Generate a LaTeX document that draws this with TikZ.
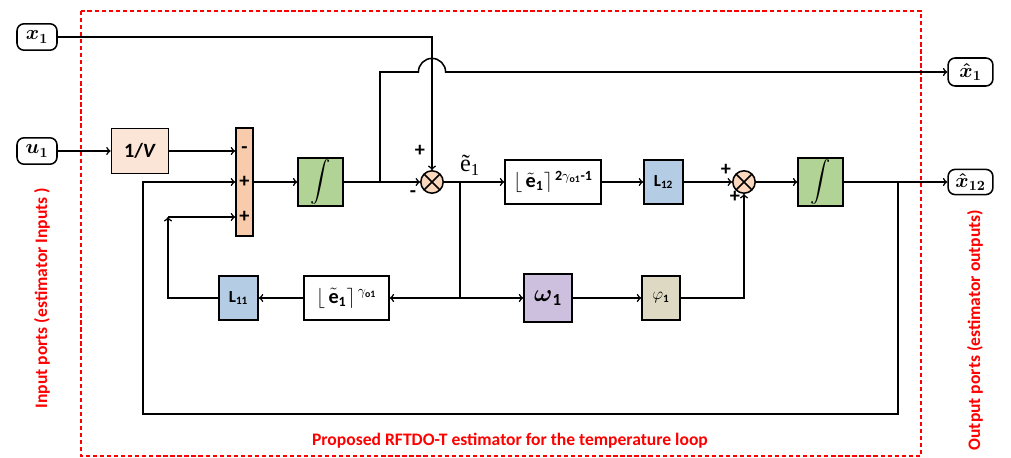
\documentclass[tikz,border=0pt]{standalone}
\usepackage{amsmath}
\usepackage{fontspec}
\setmainfont{Carlito}
\newfontfamily\serf{Liberation Serif}
\usepackage{tikz}
\usepackage{xcolor}
\definecolor{vpeach}{RGB}{251,229,214}
\definecolor{barorange}{RGB}{248,203,173}
\definecolor{sumpeach}{RGB}{251,215,190}
\definecolor{intgreen}{RGB}{178,211,150}
\definecolor{lblue}{RGB}{180,204,228}
\definecolor{lpurple}{RGB}{205,192,222}
\definecolor{lbeige}{RGB}{221,217,195}

\begin{document}
\begin{tikzpicture}[x=0.025cm, y=-0.025cm, line width=1.1pt, >=to,
    port/.style={draw, rounded corners=5pt, minimum width=1cm, minimum height=0.66cm, inner sep=0pt, font=\Large},
    blk/.style={draw, minimum width=1cm, minimum height=1.1cm, inner sep=1pt},
    sumc/.style={draw, circle, fill=sumpeach, minimum size=0.56cm, inner sep=0pt,
        path picture={\draw (path picture bounding box.north west) -- (path picture bounding box.south east)
                            (path picture bounding box.south west) -- (path picture bounding box.north east);}},
    sgn/.style={font=\bfseries\Large, inner sep=0pt},
    lbl/.style={red, font=\bfseries\fontsize{12.5}{14}\selectfont}]
    \useasboundingbox (0,0) rectangle (1011,458);
    % estimator frame
    \draw[red, line width=1pt, dash pattern=on 3pt off 2pt] (81,11) rectangle (921,456);
    \node[lbl] (title) at (510,441) {Proposed RFTDO-T estimator for the temperature loop};
    \node[lbl, rotate=90] (inlbl) at (42,298) {Input ports (estimator Inputs )};
    \node[lbl, rotate=90] (outlbl) at (975,330) {Output ports (estimator outputs)};
    % ports
    \node[port] (xin) at (37,37) {$\boldsymbol{x_1}$};
    \node[port] (uin) at (37,151) {$\boldsymbol{u_1}$};
    \node[port, minimum width=1.12cm, minimum height=0.7cm] (xh1) at (970.5,72) {$\boldsymbol{\hat{x}_1}$};
    \node[port, minimum width=1.12cm, minimum height=0.63cm] (xh12) at (970.5,182) {$\boldsymbol{\hat{x}_{12}}$};
    % upper row
    \node[blk, fill=vpeach, minimum width=1.43cm, minimum height=1.12cm, font=\bfseries\Large] (invV) at (140,151) {1/\textit{V}};
    \node[draw, fill=barorange, minimum width=0.43cm, minimum height=2.7cm, inner sep=0pt] (bar) at (244.5,182) {};
    \node[sgn] at (244.5,150) {-};
    \node[sgn] at (244.5,182) {+};
    \node[sgn] at (244.5,217) {+};
    \node[blk, fill=intgreen, minimum width=1.12cm, font=\Large] (int1) at (320.5,182) {$\displaystyle\int$};
    \node[sumc] (sum1) at (432,182) {};
    \node[sgn] at (420,151) {+};
    \node[sgn] at (413,194) {-};
    \node (etil) at (470,165) {\serf\LARGE ẽ\textsubscript{1}};
    \node[blk, minimum width=2.4cm, font=\Large] (sig2) at (553,182) {$\lfloor\,\tilde{\mathbf{e}}_{\mathbf 1}\rceil^{\,\mathbf{2}\gamma_{\mathbf{o1}}\textbf{-1}}$};
    \node[blk, fill=lblue, minimum width=0.98cm, font=\large] (L12) at (663.5,182) {\textbf{L}$_{\mathbf{12}}$};
    \node[sumc] (sum2) at (744,182) {};
    \node[sgn] at (726,170) {+};
    \node[sgn] at (735,197) {+};
    \node[blk, fill=intgreen, minimum width=1.12cm, font=\Large] (int2) at (820.5,182) {$\displaystyle\int$};
    % lower row
    \node[blk, fill=lblue, minimum width=0.98cm, font=\large] (L11) at (238.5,298) {\textbf{L}$_{\mathbf{11}}$};
    \node[blk, minimum width=2.12cm, font=\Large] (sig1) at (346.5,298) {$\lfloor\,\tilde{\mathbf{e}}_{\mathbf 1}\rceil^{\,\gamma_{\mathbf{o1}}}$};
    \node[blk, fill=lpurple, minimum size=1.2cm, font=\LARGE] (w1) at (548,298) {$\boldsymbol{\omega}_{\mathbf 1}$};
    \node[blk, fill=lbeige, minimum width=0.95cm, font=\large] (p1) at (661,298) {$\varphi_{\mathbf 1}$};
    % branch points
    \coordinate (br1) at (380,182);
    \coordinate (br2) at (460,182);
    \coordinate (br4) at (898,182);
    \coordinate (hop) at (sum1 |- xh1);
    \coordinate (fb) at (143,414);
    \coordinate (lk) at (168,217);
    % connectors
    \draw[->] (xin) -| (sum1);
    \draw[->] (uin) -- (invV);
    \draw[->] (invV) -- (invV -| bar.west);
    \draw[->] (bar) -- (int1);
    \draw[->] (int1) -- (sum1);
    \draw[->] (br1) |- ([xshift=-0.34cm]hop) arc[start angle=180, end angle=0, radius=0.34cm] -- (xh1);
    \draw[->] (sum1) -- (sig2);
    \draw (br2) -- (br2 |- sig1) coordinate (br3);
    \draw[->] (br3) -- (sig1);
    \draw[->] (br3) -- (w1);
    \draw[->] (sig2) -- (L12);
    \draw[->] (L12) -- (sum2);
    \draw[->] (sum2) -- (int2);
    \draw[->] (int2) -- (xh12);
    \draw[->] (br4) |- (fb) |- (bar.west);
    \draw[->] (sig1) -- (L11);
    \draw[->] (L11) -| (lk);
    \draw[->] (lk) -- (lk -| bar.west);
    \draw[->] (w1) -- (p1);
    \draw[->] (p1) -| (sum2);
\end{tikzpicture}
\end{document}
